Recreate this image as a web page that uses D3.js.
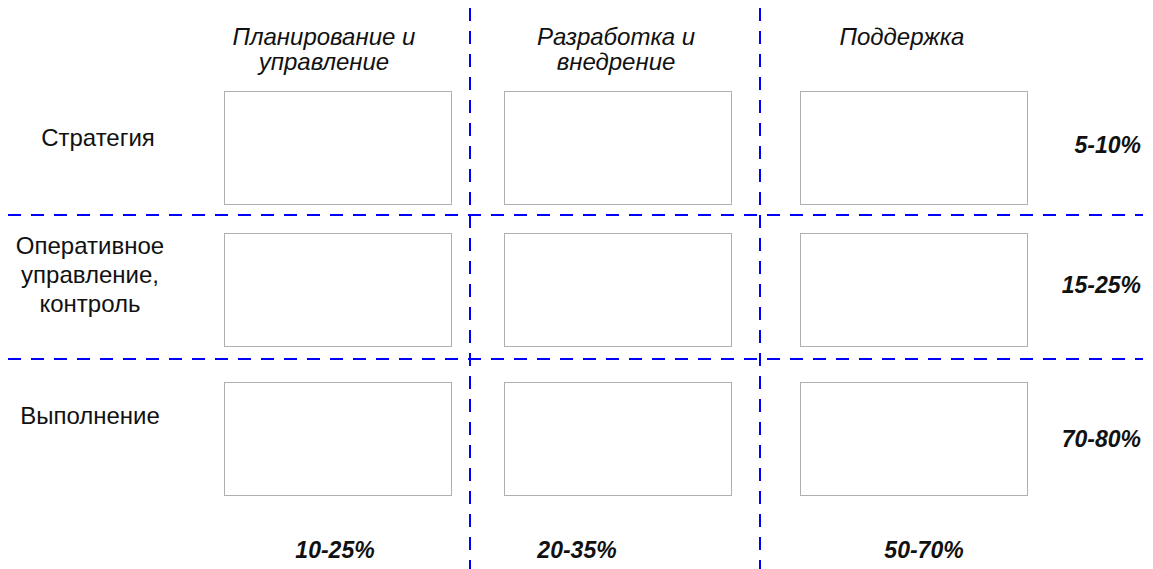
<html>
<head>
    <meta charset="utf-8">
    <script src="https://cdn.jsdelivr.net/npm/d3@7"></script>
    <style>
        body {
            margin: 0;
            background: white;
            font-family: "Liberation Sans", Arial, sans-serif;
        }
        svg {
            display: block;
        }
    </style>
</head>
<body>
    <svg id="chart"></svg>
</body>
<script>
    // column headers (each entry = lines of the label)
    const colHeaders = [
        ["Планирование и", "управление"],
        ["Разработка и", "внедрение"],
        ["Поддержка"]
    ];
    // row labels
    const rowLabels = [
        ["Стратегия"],
        ["Оперативное", "управление,", "контроль"],
        ["Выполнение"]
    ];
    // share of effort per row and per column
    const rowShares = ["5-10%", "15-25%", "70-80%"];
    const colShares = ["10-25%", "20-35%", "50-70%"];

    const width = 1153;
    const height = 569;
    const boxW = 227, boxH = 113;

    let svg = d3.select("#chart")
        .attr("width", width)
        .attr("height", height);

    const cols = d3.range(colHeaders.length);
    const rows = d3.range(rowLabels.length);

    // layout scales
    let xBox = d3.scaleOrdinal().domain(cols).range([337, 617, 913]);
    let yBox = d3.scaleOrdinal().domain(rows).range([147, 289.5, 438.5]);
    let xHead = d3.scaleOrdinal().domain(cols).range([324, 616, 902]);
    let xFoot = d3.scaleOrdinal().domain(cols).range([335, 577, 924]);
    let yRowLabel = d3.scaleOrdinal().domain(rows).range([146, 254, 424]);
    let yRowShare = d3.scaleOrdinal().domain(rows).range([153, 293, 447]);
    let xSplit = d3.scaleOrdinal().domain([0, 1]).range([470, 760]);
    let ySplit = d3.scaleOrdinal().domain([0, 1]).range([215, 359]);

    // dashed dividers
    let grid = svg.append("g")
        .attr("stroke", "#0000ff")
        .attr("stroke-width", 2)
        .attr("stroke-dasharray", "13,10");

    grid.selectAll(".vline")
        .data([0, 1])
        .enter().append("line")
        .attr("class", "vline")
        .attr("x1", d => xSplit(d)).attr("x2", d => xSplit(d))
        .attr("y1", 8).attr("y2", height);

    grid.selectAll(".hline")
        .data([0, 1])
        .enter().append("line")
        .attr("class", "hline")
        .attr("x1", 8).attr("x2", 1143)
        .attr("y1", d => ySplit(d)).attr("y2", d => ySplit(d));

    // empty cells
    let cells = [];
    rows.forEach(r => cols.forEach(c => cells.push({r, c})));

    svg.selectAll(".cell")
        .data(cells)
        .enter().append("rect")
        .attr("class", "cell")
        .attr("x", d => Math.round(xBox(d.c) - boxW / 2) + 0.5)
        .attr("y", d => Math.round(yBox(d.r) - boxH / 2) + 0.5)
        .attr("width", boxW)
        .attr("height", boxH)
        .attr("fill", "white")
        .attr("stroke", "#b0b0b0")
        .attr("stroke-width", 1);

    // column headers
    svg.selectAll(".head")
        .data(colHeaders)
        .enter().append("text")
        .attr("class", "head")
        .attr("text-anchor", "middle")
        .attr("font-size", 24)
        .attr("font-style", "italic")
        .attr("fill", "#111")
        .each(function(lines, i) {
            d3.select(this).selectAll("tspan")
                .data(lines)
                .enter().append("tspan")
                .attr("x", xHead(i))
                .attr("y", (l, j) => 45 + j * 25)
                .text(l => l);
        });

    // row labels
    svg.selectAll(".rowlabel")
        .data(rowLabels)
        .enter().append("text")
        .attr("class", "rowlabel")
        .attr("text-anchor", "middle")
        .attr("font-size", 24)
        .attr("fill", "#111")
        .each(function(lines, i) {
            d3.select(this).selectAll("tspan")
                .data(lines)
                .enter().append("tspan")
                .attr("x", i == 0 ? 98 : 90)
                .attr("y", (l, j) => yRowLabel(i) + j * 29)
                .text(l => l);
        });

    // row shares on the right
    svg.selectAll(".rowshare")
        .data(rowShares)
        .enter().append("text")
        .attr("class", "rowshare")
        .attr("x", 1141)
        .attr("y", (d, i) => yRowShare(i))
        .attr("text-anchor", "end")
        .attr("font-size", 23)
        .attr("font-weight", "bold")
        .attr("font-style", "italic")
        .attr("fill", "#111")
        .text(d => d);

    // column shares at the bottom
    svg.selectAll(".colshare")
        .data(colShares)
        .enter().append("text")
        .attr("class", "colshare")
        .attr("x", (d, i) => xFoot(i))
        .attr("y", 558)
        .attr("text-anchor", "middle")
        .attr("font-size", 23)
        .attr("font-weight", "bold")
        .attr("font-style", "italic")
        .attr("fill", "#111")
        .text(d => d);
</script>
</html>
